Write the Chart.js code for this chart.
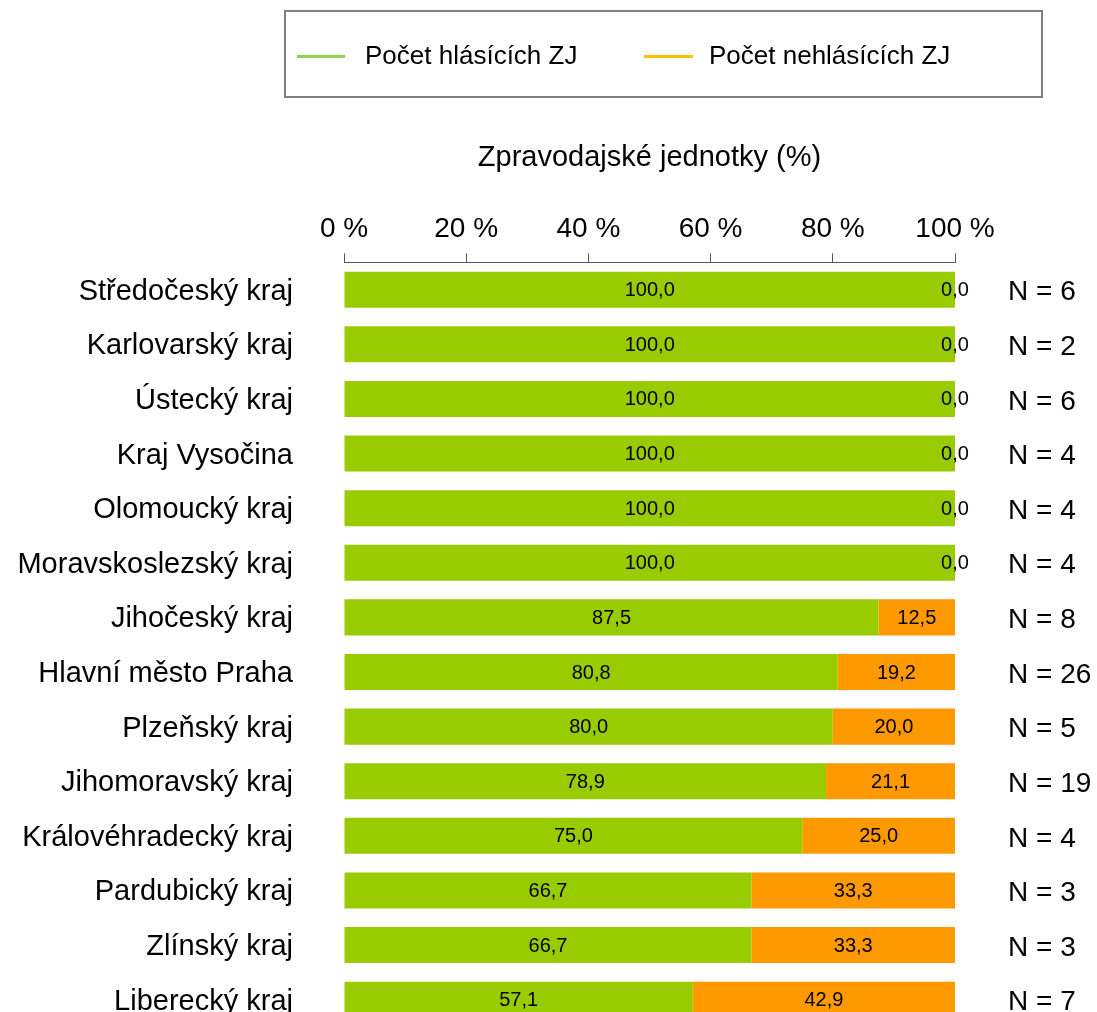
<!DOCTYPE html>
<html>
<head>
<meta charset="utf-8">
<script src="https://cdn.jsdelivr.net/npm/chart.js@4.4.1/dist/chart.umd.min.js"></script>
<style>
  html, body { margin: 0; padding: 0; background: #fff; overflow: hidden; }
  #wrap { position: relative; width: 1097px; height: 1027px; overflow: hidden; }
  #cw { position: absolute; left: 0; top: 0; width: 1097px; height: 1027px; }
  #legend { position: absolute; left: 284px; top: 10px; width: 755px; height: 84px;
    border: 2px solid #808080; font-family: "Liberation Sans", Arial, sans-serif; font-size: 26px; color: #000; }
  .ln { position: absolute; height: 3px; top: 43px; }
  .lt { position: absolute; top: 28px; line-height: 30px; white-space: nowrap; }
</style>
</head>
<body>
<div id="wrap">
  <div id="cw"><canvas id="c"></canvas></div>
  <div id="legend">
    <div class="ln" style="left:11px;width:48px;background:#92D050"></div>
    <div class="lt" id="lg0" style="left:79px"></div>
    <div class="ln" style="left:358px;width:49px;background:#FFC000"></div>
    <div class="lt" id="lg1" style="left:423px"></div>
  </div>
</div>
<script>
const categories = ["Středočeský kraj","Karlovarský kraj","Ústecký kraj","Kraj Vysočina","Olomoucký kraj","Moravskoslezský kraj","Jihočeský kraj","Hlavní město Praha","Plzeňský kraj","Jihomoravský kraj","Královéhradecký kraj","Pardubický kraj","Zlínský kraj","Liberecký kraj"];
const reporting = [100.0,100.0,100.0,100.0,100.0,100.0,87.5,80.8,80.0,78.9,75.0,66.7,66.7,57.1];
const notReporting = [0.0,0.0,0.0,0.0,0.0,0.0,12.5,19.2,20.0,21.1,25.0,33.3,33.3,42.9];
const counts = [6,2,6,4,4,4,8,26,5,19,4,3,3,7];
const seriesNames = ["Počet hlásících ZJ","Počet nehlásících ZJ"];
const axisTitle = "Zpravodajské jednotky (%)";
const tickValues = [0,20,40,60,80,100];

document.getElementById('lg0').textContent = seriesNames[0];
document.getElementById('lg1').textContent = seriesNames[1];

const FONT = "'Liberation Sans', Arial, sans-serif";

const labelsPlugin = {
  id: 'labelsPlugin',
  afterDatasetsDraw(chart) {
    const ctx = chart.ctx;
    ctx.save();
    ctx.fillStyle = '#000';
    ctx.textBaseline = 'middle';
    ctx.textAlign = 'center';
    ctx.font = "20px " + FONT;
    chart.data.datasets.forEach((ds, di) => {
      const meta = chart.getDatasetMeta(di);
      meta.data.forEach((bar, i) => {
        const v = ds.data[i];
        const x = (bar.x + bar.base) / 2;
        ctx.fillText(v.toFixed(1).replace('.', ','), x, bar.y + 1);
      });
    });
    ctx.textAlign = 'left';
    ctx.font = "28px " + FONT;
    const yScale = chart.scales.y;
    counts.forEach((n, i) => {
      ctx.fillText('N = ' + n, chart.chartArea.right + 53, yScale.getPixelForValue(i) + 3);
    });
    ctx.restore();
  }
};

new Chart(document.getElementById('c'), {
  type: 'bar',
  data: {
    labels: categories,
    datasets: [
      { label: seriesNames[0], data: reporting, backgroundColor: '#99CC00', borderWidth: 0 },
      { label: seriesNames[1], data: notReporting, backgroundColor: '#FF9900', borderWidth: 0 }
    ]
  },
  options: {
    indexAxis: 'y',
    responsive: true,
    maintainAspectRatio: false,
    animation: false,
    datasets: { bar: { categoryPercentage: 0.66, barPercentage: 1.0 } },
    layout: { padding: { top: 141, right: 142, bottom: 0, left: 0 } },
    plugins: { legend: { display: false }, tooltip: { enabled: false } },
    scales: {
      x: {
        position: 'top',
        stacked: true,
        min: 0, max: 100,
        afterBuildTicks(scale) { scale.ticks = tickValues.map(v => ({ value: v })); },
        ticks: {
          color: '#000',
          font: { family: FONT, size: 28 },
          padding: 7,
          maxRotation: 0,
          callback: (v) => v + ' %'
        },
        grid: { drawOnChartArea: false, drawTicks: true, tickLength: 9, color: '#595959', lineWidth: 1 },
        border: { display: true, color: '#595959', width: 1 },
        title: {
          display: true, text: axisTitle, color: '#000',
          font: { family: FONT, size: 29 },
          padding: { top: 0, bottom: 30 }
        }
      },
      y: {
        stacked: true,
        afterFit(scale) { scale.width = 344; scale.paddingTop = 0; scale.paddingBottom = 0; },
        ticks: { color: '#000', font: { family: FONT, size: 29 }, padding: 51, labelOffset: 2 },
        grid: { display: false, drawTicks: false },
        border: { display: false }
      }
    }
  },
  plugins: [labelsPlugin]
});
</script>
</body>
</html>
